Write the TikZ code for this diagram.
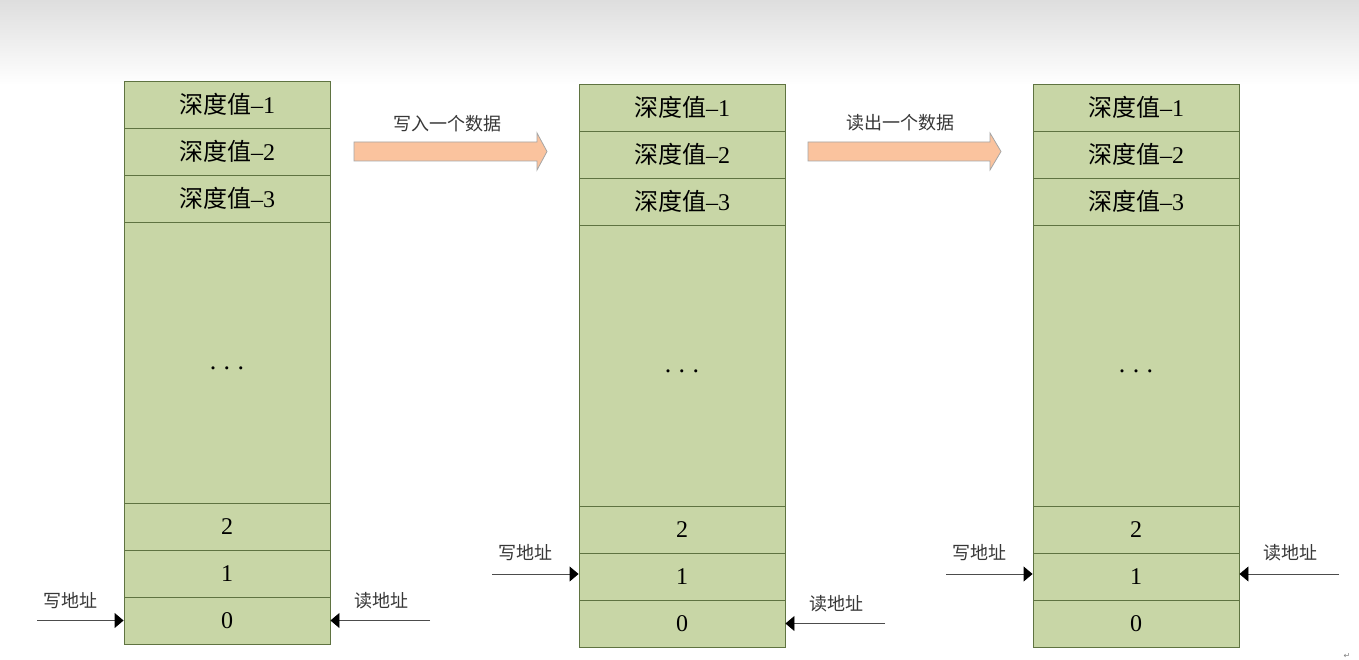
\documentclass[tikz,border=0pt]{standalone}
\usepackage{fontspec}
\setmainfont{Liberation Serif}
\newfontfamily\cjk{Noto Sans CJK SC}
\newfontfamily\symfont{DejaVu Sans}
\usetikzlibrary{arrows.meta}
\definecolor{cellgreen}{RGB}{200,214,166}
\definecolor{cellline}{RGB}{95,115,65}
\definecolor{peach}{RGB}{250,195,158}
\definecolor{labelgray}{RGB}{55,55,55}
\definecolor{topgray}{RGB}{222,222,222}
\tikzset{
	cell/.style={draw=cellline, fill=cellgreen, line width=0.9pt, minimum width=206pt,
		minimum height=47pt, inner sep=0pt, font=\fontsize{24}{26}\selectfont},
	bigcell/.style={cell, minimum height=281pt},
	dots/.style={inner sep=0pt, font=\fontsize{26}{28}\selectfont},
	ptr/.style={draw=gray!60!black, line width=0.9pt, -{Triangle[length=9pt,width=15pt,color=black]}},
	tag/.style={text=labelgray, font=\cjk\fontsize{18}{20}\selectfont},
	blockarrow/.style={draw=gray!70, fill=peach, line width=0.8pt, line join=miter}
}
\newcommand{\depthval}[1]{{\cjk 深度值}–#1}
\newcommand{\spacedots}{.\hspace{7.5pt}.\hspace{7.5pt}.}
\begin{document}
\begin{tikzpicture}[x=1pt,y=-1pt]
				\useasboundingbox (0,0) rectangle (1359,660);
				\fill[white] (0,0) rectangle (1359,660);
				\shade[top color=topgray, bottom color=white] (0,0) rectangle (1359,85);
				
				% stack A
				\node[cell] (A-d1) at (227,104.5) {\depthval{1}};
				\node[cell] (A-d2) at (227,151.5) {\depthval{2}};
				\node[cell] (A-d3) at (227,198.5) {\depthval{3}};
				\node[bigcell] (A-mid) at (227,362.5) {};
				\node[dots] (A-dots) at ([yshift=-6pt]A-mid.center) {\spacedots};
				\node[cell] (A-2) at (227,526.5) {2};
				\node[cell] (A-1) at (227,573.5) {1};
				\node[cell] (A-0) at (227,620.5) {0};
				\coordinate (Aw) at (37,620.5);
				\coordinate (Ar) at (430,620.5);
				\node[tag] (Aw-l) at (70,601) {写地址};
				\node[tag] (Ar-l) at (381,601) {读地址};
				\draw[ptr] (Aw) -- (Aw -| A-0.west);
				\draw[ptr] (Ar) -- (Ar -| A-0.east);
				
				% write arrow
				\node[tag] (wr-l) at (447,124) {写入一个数据};
				\draw[blockarrow] (354,142) -- (537,142) -- (537,133) -- (547,151.5)
					-- (537,170) -- (537,161) -- (354,161) -- cycle;
				
				% stack B
				\node[cell] (B-d1) at (682,107.5) {\depthval{1}};
				\node[cell] (B-d2) at (682,154.5) {\depthval{2}};
				\node[cell] (B-d3) at (682,201.5) {\depthval{3}};
				\node[bigcell] (B-mid) at (682,365.5) {};
				\node[dots] (B-dots) at ([yshift=-6pt]B-mid.center) {\spacedots};
				\node[cell] (B-2) at (682,529.5) {2};
				\node[cell] (B-1) at (682,576.5) {1};
				\node[cell] (B-0) at (682,623.5) {0};
				\coordinate (Bw) at (492,574);
				\coordinate (Br) at (885,623.5);
				\node[tag] (Bw-l) at (525,553) {写地址};
				\node[tag] (Br-l) at (836,604) {读地址};
				\draw[ptr] (Bw) -- (Bw -| B-1.west);
				\draw[ptr] (Br) -- (Br -| B-0.east);
				
				% read arrow
				\node[tag] (rd-l) at (900,123) {读出一个数据};
				\draw[blockarrow] (808,142) -- (990,142) -- (990,133) -- (1001,151.5)
					-- (990,170) -- (990,161) -- (808,161) -- cycle;
				
				% stack C
				\node[cell] (C-d1) at (1136,107.5) {\depthval{1}};
				\node[cell] (C-d2) at (1136,154.5) {\depthval{2}};
				\node[cell] (C-d3) at (1136,201.5) {\depthval{3}};
				\node[bigcell] (C-mid) at (1136,365.5) {};
				\node[dots] (C-dots) at ([yshift=-6pt]C-mid.center) {\spacedots};
				\node[cell] (C-2) at (1136,529.5) {2};
				\node[cell] (C-1) at (1136,576.5) {1};
				\node[cell] (C-0) at (1136,623.5) {0};
				\coordinate (Cw) at (946,574);
				\coordinate (Cr) at (1339,574);
				\node[tag] (Cw-l) at (979,553) {写地址};
				\node[tag] (Cr-l) at (1290,553) {读地址};
				\draw[ptr] (Cw) -- (Cw -| C-1.west);
				\draw[ptr] (Cr) -- (Cr -| C-1.east);
				
				\node[text=gray, font=\symfont\fontsize{8}{9}\selectfont] (ret) at (1347,656) {↵};
\end{tikzpicture}
\end{document}
